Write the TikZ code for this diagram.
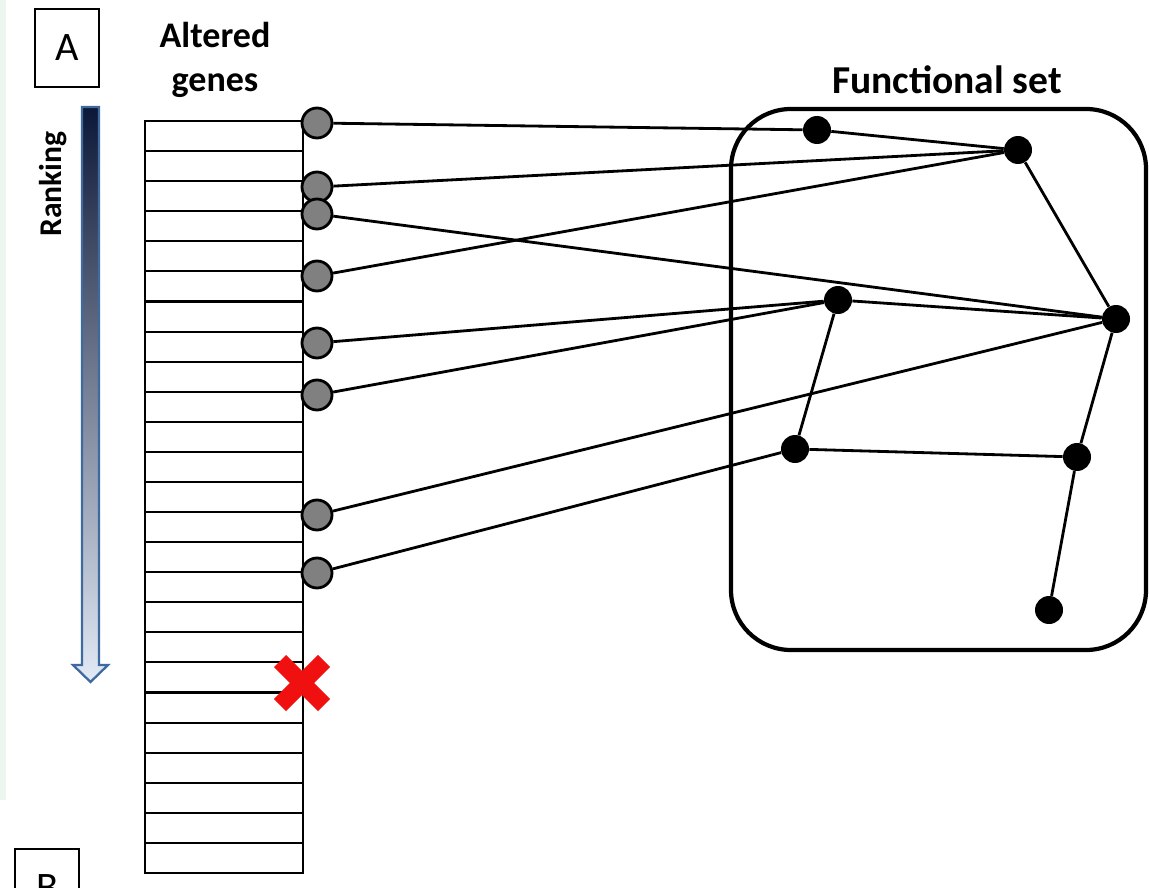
\documentclass[tikz,border=0pt]{standalone}
\usepackage{fontspec}
\setmainfont{Carlito}
\definecolor{genegray}{RGB}{128,128,128}
\definecolor{arrowtop}{RGB}{12,24,56}
\definecolor{arrowmid}{RGB}{132,148,178}
\definecolor{arrowbot}{RGB}{226,234,246}
\definecolor{arrowedge}{RGB}{62,106,160}
\definecolor{scanband}{RGB}{236,246,238}
\definecolor{crossred}{RGB}{240,16,16}
\begin{document}
\begin{tikzpicture}[x=0.02cm,y=-0.02cm,
    gen/.style={circle, minimum size=0.6cm, inner sep=0pt, draw=black, line width=1.6pt, fill=genegray},
    fun/.style={circle, minimum size=0.56cm, inner sep=0pt, fill=black},
    edge/.style={line width=1.6pt},
    lbl/.style={font=\bfseries\fontsize{20.5}{25}\selectfont, align=center},
    panel/.style={draw, line width=1.1pt, minimum width=1.28cm, minimum height=1.56cm, font=\fontsize{23}{27}\selectfont}]

\useasboundingbox (0,0) rectangle (1149,888);
\clip (0,0) rectangle (1149,888);
\fill[scanband] (0,0) rectangle (6,800);

\node [panel] (A) at (67,48){A};
\node [panel] (B) at (47,888){B};
\node [lbl] (altered) at (215,60){Altered\\genes};
\node [lbl, font=\bfseries\fontsize{22.5}{27}\selectfont] (fset) at (947,80){Functional set};
\node [lbl, font=\bfseries\fontsize{18}{22}\selectfont, rotate=90] (rank) at (53,184){Ranking};

\shade[top color=arrowtop, middle color=arrowmid, bottom color=arrowbot, draw=arrowedge, line width=1.3pt]
  (82,107) -- (99,107) -- (99,665) -- (108,665) -- (90.5,682) -- (73,665) -- (82,665) -- cycle;

\draw[line width=1.2pt] (145,121) rectangle (303,873);
\foreach \i in {1,...,24}
  \draw[line width=1.2pt] (145,121+\i*30.08) -- (303,121+\i*30.08);

\draw[line width=2.4pt, rounded corners=1.2cm] (731,109) rectangle (1146,650);

\draw[crossred, line width=0.34cm] (280,661) -- (324,705);
\draw[crossred, line width=0.34cm] (280,705) -- (324,661);

\node [gen] (g1) at (317,123){};
\node [gen] (g2) at (317,187){};
\node [gen] (g3) at (317,214){};
\node [gen] (g4) at (317,276){};
\node [gen] (g5) at (317,343){};
\node [gen] (g6) at (317,395){};
\node [gen] (g7) at (317,515){};
\node [gen] (g8) at (317,573){};

\node [fun] (f1) at (817,130){};
\node [fun] (f2) at (1018,150){};
\node [fun] (f3) at (838,300){};
\node [fun] (f4) at (1116,319){};
\node [fun] (f5) at (795,449){};
\node [fun] (f6) at (1077,457){};
\node [fun] (f7) at (1049,610){};

\draw[edge] (g1) -- (f1);
\draw[edge] (g2) -- (f2);
\draw[edge] (g3) -- (f4);
\draw[edge] (g4) -- (f2);
\draw[edge] (g5) -- (f3);
\draw[edge] (g6) -- (f3);
\draw[edge] (g7) -- (f4);
\draw[edge] (g8) -- (f5);
\draw[edge] (f1) -- (f2);
\draw[edge] (f2) -- (f4);
\draw[edge] (f3) -- (f4);
\draw[edge] (f3) -- (f5);
\draw[edge] (f5) -- (f6);
\draw[edge] (f4) -- (f6);
\draw[edge] (f6) -- (f7);
\end{tikzpicture}
\end{document}
